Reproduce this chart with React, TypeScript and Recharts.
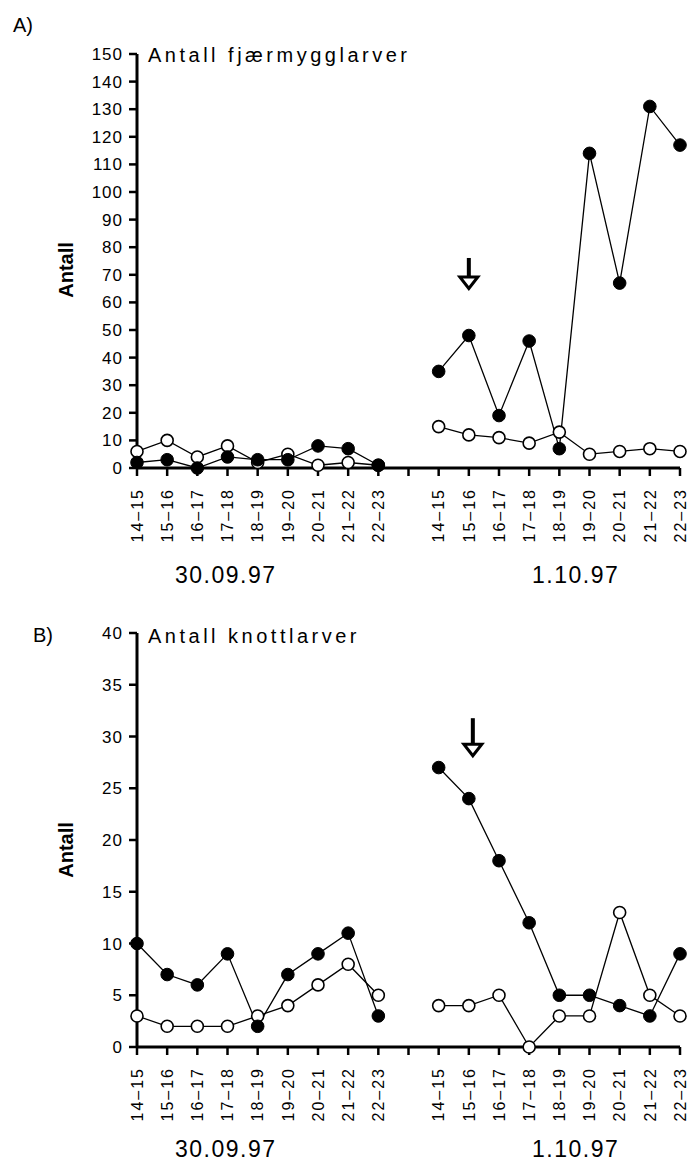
import React from "react";
import { LineChart, Line, XAxis, YAxis, ReferenceDot } from "recharts";

const hours = ["14–15", "15–16", "16–17", "17–18", "18–19", "19–20", "20–21", "21–22", "22–23"];
const dates = ["30.09.97", "1.10.97"];

const fjaerFilledDay1 = [2, 3, 0, 4, 3, 3, 8, 7, 1];
const fjaerFilledDay2 = [35, 48, 19, 46, 7, 114, 67, 131, 117];
const fjaerOpenDay1 = [6, 10, 4, 8, 2, 5, 1, 2, 1];
const fjaerOpenDay2 = [15, 12, 11, 9, 13, 5, 6, 7, 6];

const knottFilledDay1 = [10, 7, 6, 9, 2, 7, 9, 11, 3];
const knottFilledDay2 = [27, 24, 18, 12, 5, 5, 4, 3, 9];
const knottOpenDay1 = [3, 2, 2, 2, 3, 4, 6, 8, 5];
const knottOpenDay2 = [4, 4, 5, 0, 3, 3, 13, 5, 3];

const yTicksA = [0, 10, 20, 30, 40, 50, 60, 70, 80, 90, 100, 110, 120, 130, 140, 150];
const yTicksB = [0, 5, 10, 15, 20, 25, 30, 35, 40];

const xLabels = [...hours, "", ...hours];
const xTicks = xLabels.map((_, i) => i);
const arrowPos = hours.length + 2; // "15–16" on the second day

function buildRows(f1: number[], f2: number[], o1: number[], o2: number[]) {
  const rows: any[] = [];
  hours.forEach((h, i) => rows.push({ pos: i, filled: f1[i], open: o1[i] }));
  rows.push({ pos: hours.length, filled: null, open: null });
  hours.forEach((h, i) => rows.push({ pos: hours.length + 1 + i, filled: f2[i], open: o2[i] }));
  return rows;
}

const rowsA = buildRows(fjaerFilledDay1, fjaerFilledDay2, fjaerOpenDay1, fjaerOpenDay2);
const rowsB = buildRows(knottFilledDay1, knottFilledDay2, knottOpenDay1, knottOpenDay2);

const FONT = "'Liberation Sans', Arial, Helvetica, sans-serif";

const RotTick = (props: any) => {
  const { x, y, payload } = props;
  const label = xLabels[payload.value] ?? "";
  return (
    <text
      transform={`translate(${x},${y + 10}) rotate(-90)`}
      textAnchor="end"
      dy="0.36em"
      fontSize={16}
      fontFamily={FONT}
      letterSpacing={2}
      fill="#000"
    >
      {label}
    </text>
  );
};

const makeArrow = (len: number, dx: number) => (props: any) => {
  const { cx, cy } = props;
  const x = cx + dx;
  const headH = 13;
  const headW = 9;
  return (
    <g>
      <rect x={x - 2} y={cy - len} width={4} height={len - headH + 2} fill="#000" />
      <polygon
        points={`${x - headW},${cy - headH} ${x + headW},${cy - headH} ${x},${cy - 1.5}`}
        fill="#fff"
        stroke="#000"
        strokeWidth={3}
        strokeLinejoin="miter"
      />
    </g>
  );
};

function Panel(props: {
  rows: any[];
  yMax: number;
  yTicks: number[];
  top: number;
  height: number;
  marginTop: number;
  marginBottom: number;
  arrowY: number;
  arrowLen: number;
  arrowDx: number;
}) {
  const { rows, yMax, yTicks, top, height, marginTop, marginBottom, arrowY, arrowLen, arrowDx } = props;
  return (
    <div style={{ position: "absolute", left: 0, top, width: 690, height }}>
      <LineChart
        width={690}
        height={height}
        data={rows}
        margin={{ top: marginTop, right: 10, bottom: marginBottom, left: 77 }}
      >
        <XAxis
          dataKey="pos"
          type="number"
          domain={[0, 18]}
          ticks={xTicks}
          interval={0}
          height={60}
          axisLine={{ stroke: "#000", strokeWidth: 3 }}
          tickLine={{ stroke: "#000", strokeWidth: 2.5 }}
          tickSize={8}
          tick={<RotTick />}
          allowDecimals={false}
        />
        <YAxis
          type="number"
          domain={[0, yMax]}
          ticks={yTicks}
          interval={0}
          width={60}
          axisLine={{ stroke: "#000", strokeWidth: 3 }}
          tickLine={{ stroke: "#000", strokeWidth: 2.5 }}
          tickSize={8}
          tickMargin={6}
          tick={{ fill: "#000", fontSize: 17, fontFamily: FONT, letterSpacing: 1 }}
        />
        <Line
          dataKey="open"
          stroke="#000"
          strokeWidth={1.3}
          isAnimationActive={false}
          connectNulls={false}
          dot={{ r: 6, fill: "#fff", stroke: "#000", strokeWidth: 1.6 }}
          activeDot={false}
        />
        <Line
          dataKey="filled"
          stroke="#000"
          strokeWidth={1.3}
          isAnimationActive={false}
          connectNulls={false}
          dot={{ r: 6.3, fill: "#000", stroke: "#000", strokeWidth: 1 }}
          activeDot={false}
        />
        <ReferenceDot x={arrowPos} y={arrowY} r={0} shape={makeArrow(arrowLen, arrowDx)} />
      </LineChart>
    </div>
  );
}

export default function App() {
  const txt = { fontFamily: FONT, fill: "#000" } as const;
  return (
    <div style={{ position: "absolute", left: 0, top: 0, width: 690, height: 1165, background: "#fff" }}>
      <Panel
        rows={rowsA}
        yMax={150}
        yTicks={yTicksA}
        top={0}
        height={600}
        marginTop={54}
        marginBottom={72}
        arrowY={64.5}
        arrowLen={32}
        arrowDx={0}
      />
      <Panel
        rows={rowsB}
        yMax={40}
        yTicks={yTicksB}
        top={580}
        height={585}
        marginTop={53}
        marginBottom={58}
        arrowY={28}
        arrowLen={39}
        arrowDx={4}
      />
      <svg
        width={690}
        height={1165}
        style={{ position: "absolute", left: 0, top: 0, pointerEvents: "none" }}
      >
        <text x={13} y={32} fontSize={20} {...txt}>A)</text>
        <text x={33} y={642} fontSize={20} {...txt}>B)</text>
        <text x={148} y={62} fontSize={20} letterSpacing={3.5} {...txt}>Antall fjærmygglarver</text>
        <text x={148} y={643} fontSize={20} letterSpacing={3.5} {...txt}>Antall knottlarver</text>
        <text transform="translate(73,270) rotate(-90)" textAnchor="middle" fontSize={20} fontWeight="bold" {...txt}>Antall</text>
        <text transform="translate(73,850) rotate(-90)" textAnchor="middle" fontSize={20} fontWeight="bold" {...txt}>Antall</text>
        <text x={175} y={583} fontSize={23} letterSpacing={1.5} {...txt}>{dates[0]}</text>
        <text x={532} y={583} fontSize={23} letterSpacing={1.5} {...txt}>{dates[1]}</text>
        <text x={175} y={1157} fontSize={23} letterSpacing={1.5} {...txt}>{dates[0]}</text>
        <text x={532} y={1157} fontSize={23} letterSpacing={1.5} {...txt}>{dates[1]}</text>
      </svg>
    </div>
  );
}
